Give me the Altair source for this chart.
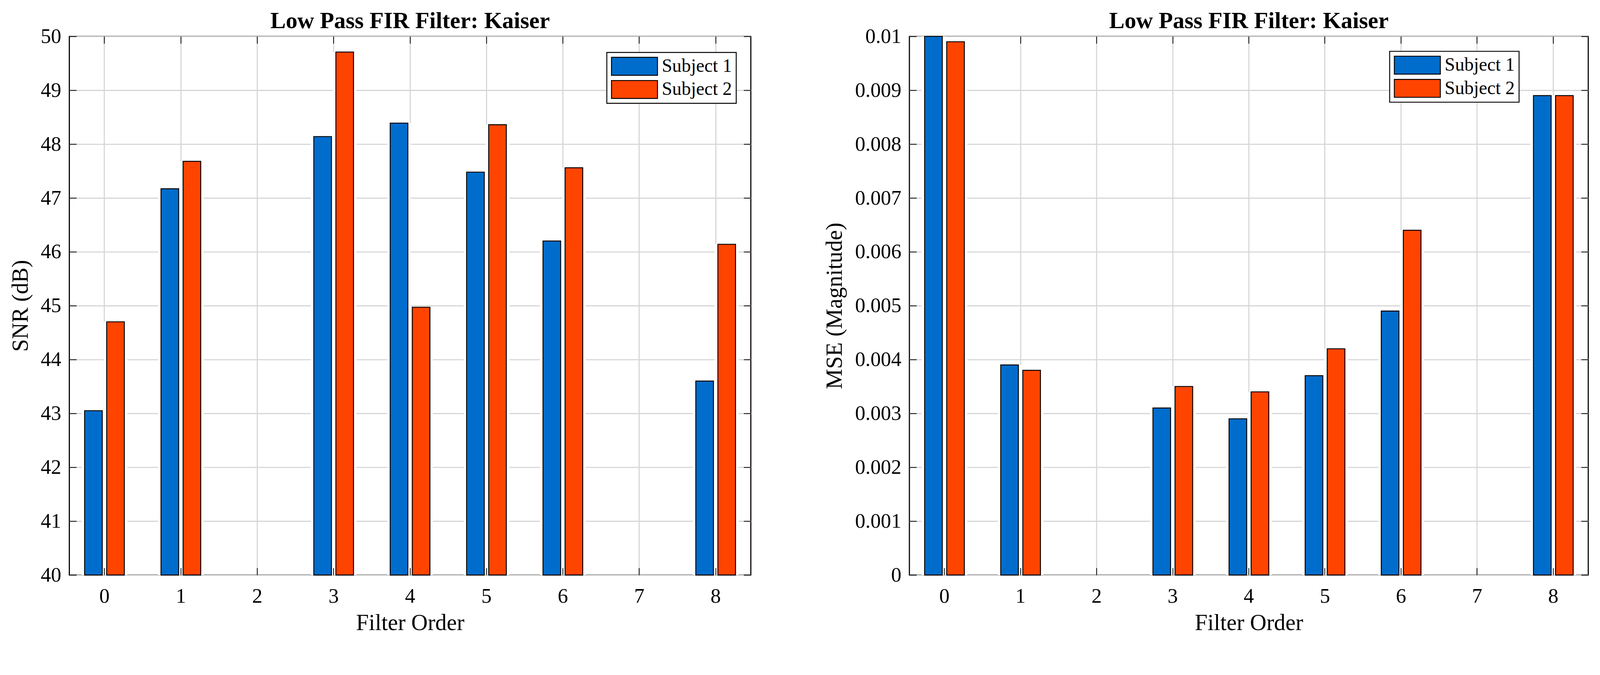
import altair as alt
import pandas as pd

# ---- data ----
orders = [0, 1, 2, 3, 4, 5, 6, 7, 8]
subjects = ["Subject 1", "Subject 2"]

snr_subject1 = [43.05, 47.17, None, 48.14, 48.39, 47.48, 46.20, None, 43.60]
snr_subject2 = [44.70, 47.68, None, 49.71, 44.97, 48.36, 47.56, None, 46.14]

mse_subject1 = [0.0100, 0.0039, None, 0.0031, 0.0029, 0.0037, 0.0049, None, 0.0089]
mse_subject2 = [0.0099, 0.0038, None, 0.0035, 0.0034, 0.0042, 0.0064, None, 0.0089]

snr_ticks = [40, 41, 42, 43, 44, 45, 46, 47, 48, 49, 50]
mse_ticks = [0, 0.001, 0.002, 0.003, 0.004, 0.005, 0.006, 0.007, 0.008, 0.009, 0.01]

title_text = "Low Pass FIR Filter: Kaiser"
x_title = "Filter Order"
snr_title = "SNR (dB)"
mse_title = "MSE (Magnitude)"

FONT = "Liberation Serif"
BLUE = "#006DCC"
ORANGE = "#FF4400"
GRID = "#d6d6d6"


def long_df(s1, s2):
    rows = []
    for o, a, b in zip(orders, s1, s2):
        rows.append({"order": o, "subject": subjects[0], "value": a})
        rows.append({"order": o, "subject": subjects[1], "value": b})
    return pd.DataFrame(rows)


def panel(df, y_title, y_domain, y_ticks, y_format, width, legend_x, legend_y):
    xscale = alt.Scale(domain=orders, paddingInner=0.48, paddingOuter=0.2)
    yscale = alt.Scale(domain=y_domain, nice=False, zero=False, clamp=True)
    offs = alt.XOffset("subject:N", scale=alt.Scale(domain=subjects, paddingInner=0.2))
    base = alt.Chart(df).transform_filter("isValid(datum.value)")

    halo = base.mark_bar(color="white", width=63, y2Offset=-2).encode(
        x=alt.X("order:O", scale=xscale,
                axis=alt.Axis(orient="top", grid=True, gridColor=GRID, gridWidth=3,
                              labels=False, domain=False, ticks=True, tickSize=19,
                              offset=-19, tickColor="black", tickWidth=2,
                              title=None, zindex=0)),
        xOffset=offs,
        y=alt.Y("value:Q", scale=yscale,
                axis=alt.Axis(orient="right", grid=True, gridColor=GRID, gridWidth=3,
                              values=y_ticks, labels=False, domain=False, ticks=True,
                              tickSize=19, offset=-19, tickColor="black", tickWidth=2,
                              title=None, zindex=0)),
    )

    bars = base.mark_bar(stroke="black", strokeWidth=2.5).encode(
        x=alt.X("order:O", scale=xscale,
                axis=alt.Axis(orient="bottom", grid=False, domain=False, ticks=True,
                              tickSize=19, offset=-19, tickColor="black", tickWidth=2,
                              labelAngle=0, labelFont=FONT, labelFontSize=55,
                              labelColor="black", labelPadding=31,
                              title=x_title, titleFont=FONT, titleFontSize=61,
                              titleFontWeight="normal", titleColor="black",
                              titlePadding=14, zindex=1)),
        xOffset=offs,
        y=alt.Y("value:Q", scale=yscale,
                axis=alt.Axis(orient="left", grid=False, domain=False, ticks=True,
                              values=y_ticks, format=y_format,
                              tickSize=19, offset=-19, tickColor="black", tickWidth=2,
                              labelFont=FONT, labelFontSize=55, labelColor="black",
                              labelPadding=22,
                              title=y_title, titleFont=FONT, titleFontSize=61,
                              titleFontWeight="normal", titleColor="black",
                              titlePadding=22, zindex=1)),
        color=alt.Color("subject:N",
                        scale=alt.Scale(domain=subjects, range=[BLUE, ORANGE]),
                        legend=alt.Legend(orient="none", legendX=legend_x, legendY=legend_y,
                                          title=None,
                                          labelFont=FONT, labelFontSize=50,
                                          labelColor="black", labelOffset=10,
                                          labelLimit=0,
                                          symbolType="M-1,-0.39H1V0.39H-1Z",
                                          symbolSize=15129, symbolStrokeColor="black",
                                          symbolStrokeWidth=2.5, symbolOpacity=1,
                                          clipHeight=52, rowPadding=10, padding=11,
                                          strokeColor="black", fillColor="white")),
    )

    return alt.layer(halo, bars).resolve_axis(x="independent", y="independent").properties(
        width=width, height=1440,
        title=alt.TitleParams(title_text, font=FONT, fontSize=62, fontWeight="bold",
                              color="black", anchor="middle", frame="group", offset=-18),
    )


left = panel(long_df(snr_subject1, snr_subject2), snr_title, [40, 50], snr_ticks, "d",
             1822, 1437, 43)
right = panel(long_df(mse_subject1, mse_subject2), mse_title, [0, 0.01], mse_ticks, "~g",
              1815, 1284, 40)

chart = alt.hconcat(left, right, spacing=189).resolve_legend(color="independent").properties(
    padding={"left": 14, "top": -22, "right": 20, "bottom": 10},
    background="white",
).configure_view(stroke="black", strokeWidth=3).configure_legend(strokeWidth=2.5)

chart.save("out.html", embed_options={"renderer": "svg", "actions": False})
